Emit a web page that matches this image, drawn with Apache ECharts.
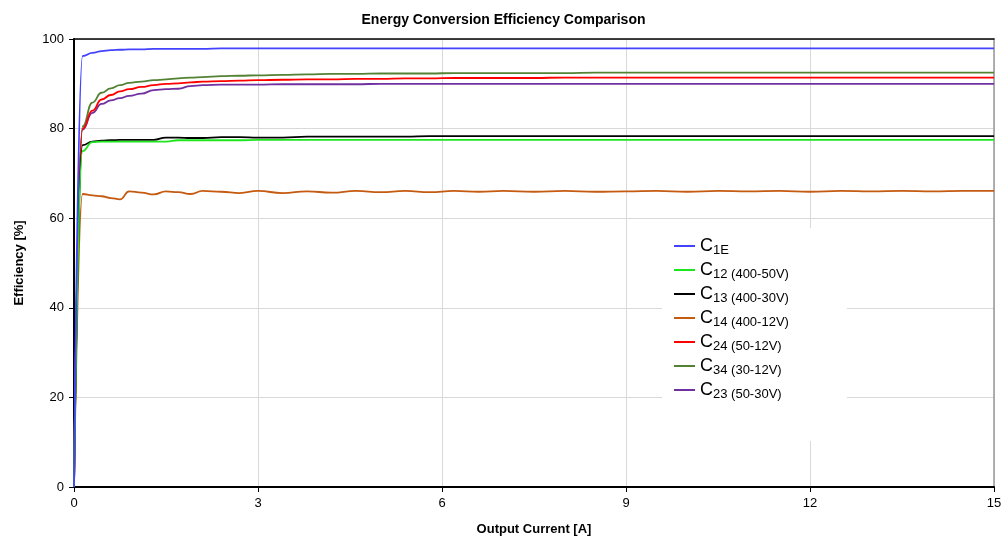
<!DOCTYPE html>
<html>
<head>
<meta charset="utf-8">
<title>Energy Conversion Efficiency Comparison</title>
<script src="https://cdn.jsdelivr.net/npm/echarts@6/dist/echarts.min.js"></script>
<style>
  html, body { margin: 0; padding: 0; background: #fff; }
  #main { width: 1007px; height: 542px; }
</style>
</head>
<body>
<div id="main"></div>
<script>
// output current [A], shared by all curves
var current = [0, 0.14, 0.3, 0.45, 0.6, 0.75, 0.9, 1.1, 1.3, 1.5, 1.7, 1.9, 2.1, 2.4, 2.7, 3.0,
  3.4, 3.8, 4.2, 4.6, 5.0, 5.4, 5.8, 6.2, 6.6, 7.0, 7.5, 8, 8.5, 9, 9.5, 10, 10.5, 11, 11.5,
  12, 12.5, 13, 13.5, 14, 14.5, 15];

// efficiency [%] per converter
var c1E = [0, 96.2, 96.9, 97.3, 97.5, 97.6, 97.7, 97.7, 97.8, 97.8, 97.8, 97.8, 97.8, 97.9, 97.9, 97.9,
  97.9, 97.9, 97.9, 97.9, 97.9, 97.9, 97.9, 97.9, 97.9, 97.9, 97.9, 97.9, 97.9, 97.9, 97.9, 97.9, 97.9, 97.9, 97.9,
  97.9, 97.9, 97.9, 97.9, 97.9, 97.9, 97.9];
var c12 = [0, 75.0, 77.0, 77.1, 77.1, 77.1, 77.1, 77.1, 77.1, 77.1, 77.4, 77.4, 77.4, 77.4, 77.4, 77.5,
  77.5, 77.5, 77.5, 77.5, 77.5, 77.5, 77.5, 77.5, 77.5, 77.5, 77.5, 77.5, 77.5, 77.5, 77.5, 77.5, 77.5, 77.5, 77.5,
  77.5, 77.5, 77.5, 77.5, 77.5, 77.5, 77.5];
var c13 = [0, 76.3, 77.1, 77.3, 77.4, 77.5, 77.5, 77.5, 77.5, 78.0, 78.0, 77.9, 77.9, 78.1, 78.1, 78.0,
  78.0, 78.2, 78.2, 78.2, 78.2, 78.2, 78.3, 78.3, 78.3, 78.3, 78.3, 78.3, 78.3, 78.3, 78.3, 78.3, 78.3, 78.3, 78.3,
  78.3, 78.3, 78.3, 78.3, 78.3, 78.3, 78.3];
var c14 = [0, 65.4, 65.1, 64.9, 64.5, 64.2, 66.0, 65.7, 65.3, 66.0, 65.8, 65.4, 66.1, 65.9, 65.6, 66.1,
  65.6, 66.0, 65.7, 66.1, 65.8, 66.1, 65.8, 66.1, 65.9, 66.1, 65.9, 66.1, 65.9, 66.0, 66.1, 65.9, 66.1, 66.0, 66.1,
  65.9, 66.1, 66.0, 66.1, 66.0, 66.1, 66.1];
var c24 = [0, 80.0, 84.0, 86.5, 87.5, 88.3, 88.8, 89.3, 89.7, 90.0, 90.1, 90.3, 90.5, 90.6, 90.7, 90.8,
  90.9, 91.0, 91.0, 91.1, 91.1, 91.2, 91.2, 91.3, 91.3, 91.3, 91.3, 91.4, 91.4, 91.4, 91.4, 91.4, 91.4, 91.4, 91.4,
  91.4, 91.4, 91.4, 91.4, 91.4, 91.4, 91.4];
var c34 = [0, 80.5, 85.8, 88.0, 89.0, 89.7, 90.2, 90.5, 90.8, 91.0, 91.2, 91.4, 91.5, 91.7, 91.8, 91.9,
  92.0, 92.1, 92.2, 92.2, 92.3, 92.3, 92.3, 92.4, 92.4, 92.4, 92.4, 92.4, 92.5, 92.5, 92.5, 92.5, 92.5, 92.5, 92.5,
  92.5, 92.5, 92.5, 92.5, 92.5, 92.5, 92.5];
var c23 = [0, 79.8, 83.5, 85.5, 86.3, 86.8, 87.3, 87.8, 88.6, 88.8, 88.9, 89.5, 89.7, 89.8, 89.8, 89.8,
  89.9, 89.9, 89.9, 89.9, 90.0, 90.0, 90.0, 90.0, 90.0, 90.0, 90.0, 90.0, 90.0, 90.0, 90.0, 90.0, 90.0, 90.0, 90.0,
  90.0, 90.0, 90.0, 90.0, 90.0, 90.0, 90.0];

var names = ['C1E', 'C12', 'C13', 'C14', 'C24', 'C34', 'C23'];
var subs = ['1E', '12 (400-50V)', '13 (400-30V)', '14 (400-12V)', '24 (50-12V)', '34 (30-12V)', '23 (50-30V)'];
var colors = ['#4343ff', '#1ee61e', '#000000', '#c55a11', '#ff0000', '#548235', '#7030a0'];
var values = [c1E, c12, c13, c14, c24, c34, c23];

function pairs(arr) {
  return arr.map(function (v, i) { return [current[i], v]; });
}

var series = names.map(function (n, i) {
  return {
    name: n,
    type: 'line',
    data: pairs(values[i]),
    showSymbol: false,
    smooth: 0.5,
    smoothMonotone: 'x',
    lineStyle: { width: 1.8, color: colors[i] },
    itemStyle: { color: colors[i] },
    z: 10 - i
  };
});

var chart = echarts.init(document.getElementById('main'));
var option = {
  animation: false,
  textStyle: { fontFamily: 'Liberation Sans, Arial, sans-serif' },
  title: {
    text: 'Energy Conversion Efficiency Comparison',
    left: 'center',
    top: 8,
    textStyle: { fontSize: 14, fontWeight: 'bold', color: '#000' }
  },
  grid: { left: 74, right: 13, top: 39, bottom: 55 },
  legend: {
    orient: 'vertical',
    left: 662,
    top: 228,
    padding: [7, 58, 40, 12],
    backgroundColor: '#fff',
    icon: 'rect',
    itemWidth: 21,
    itemHeight: 2,
    itemGap: 2,
    data: names,
    formatter: function (n) {
      return '{c|C}{s|' + subs[names.indexOf(n)] + '}';
    },
    textStyle: {
      color: '#000',
      rich: {
        c: { fontSize: 18, color: '#000', lineHeight: 20 },
        s: { fontSize: 13, color: '#000', lineHeight: 20, padding: [9, 0, 0, 0] }
      }
    }
  },
  xAxis: [{
    type: 'value',
    min: 0,
    max: 15,
    interval: 3,
    name: 'Output Current [A]',
    nameLocation: 'middle',
    nameGap: 36,
    nameTextStyle: { fontSize: 13, fontWeight: 'bold', color: '#000' },
    axisLine: { show: true, lineStyle: { color: '#000', width: 2 } },
    axisTick: { show: true, length: 5, lineStyle: { color: '#000' } },
    axisLabel: { fontSize: 13, color: '#000', margin: 10 },
    splitLine: { show: true, lineStyle: { color: '#d9d9d9' } }
  }, {
    type: 'value',
    position: 'top',
    min: 0,
    max: 15,
    axisLine: { show: true, onZero: false, lineStyle: { color: '#000', width: 1.5 } },
    axisTick: { show: false },
    axisLabel: { show: false },
    splitLine: { show: false }
  }],
  yAxis: [{
    type: 'value',
    min: 0,
    max: 100,
    interval: 20,
    name: 'Efficiency [%]',
    nameLocation: 'middle',
    nameGap: 48,
    nameTextStyle: { fontSize: 13, fontWeight: 'bold', color: '#000' },
    axisLine: { show: true, lineStyle: { color: '#000', width: 2 } },
    axisTick: { show: true, length: 5, lineStyle: { color: '#000' } },
    axisLabel: { fontSize: 13, color: '#000', margin: 10 },
    splitLine: { show: true, lineStyle: { color: '#d9d9d9' } }
  }, {
    type: 'value',
    position: 'right',
    min: 0,
    max: 100,
    axisLine: { show: true, onZero: false, lineStyle: { color: '#999', width: 1.5 } },
    axisTick: { show: false },
    axisLabel: { show: false },
    splitLine: { show: false }
  }],
  series: series
};
chart.setOption(option);
</script>
</body>
</html>
